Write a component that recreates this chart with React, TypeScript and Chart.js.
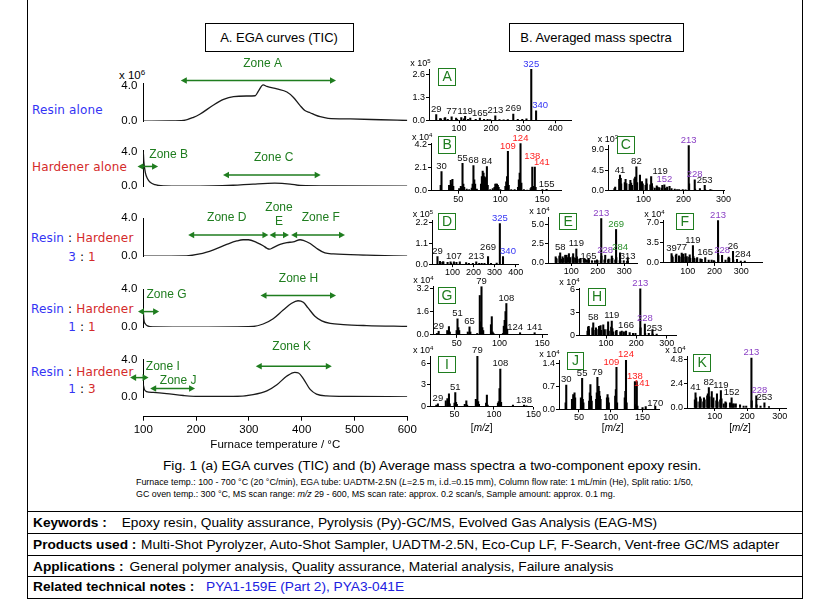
import React, { useEffect, useRef } from "react";
import { Chart, registerables } from "chart.js";

Chart.register(...registerables);

const FONT = "'Liberation Sans', Arial, sans-serif";
const ROWFONT = "'DejaVu Sans', Verdana, sans-serif";
const BLUE = "#3434f4";
const RED = "#d42a2a";
const GREEN = "#1f7d1f";
const PURPLE = "#8a3fc4";
const LBL_GREEN = "#2a8f2a";

// ================= EGA curves (x 10^6) =================
const EGA_X_TICKS = [100, 200, 300, 400, 500, 600];
const EGA_Y_TICKS = [0, 4];

const RESIN_T = [100, 150, 176, 195, 207, 233, 252, 271, 296, 312, 318, 327, 334, 353, 372, 384, 397, 406, 416, 425, 435, 450, 492, 550, 600];
const RESIN_V = [0, 0.02, 0.07, 0.42, 0.77, 1.81, 2.43, 2.75, 2.82, 2.85, 3.37, 4.07, 3.9, 3.62, 3.27, 2.68, 1.74, 1.18, 0.94, 0.7, 0.49, 0.31, 0.24, 0.15, 0.07];

const HARD_T = [100, 101, 104, 108, 113, 122, 138, 176, 230, 270, 308, 349, 378, 397, 460, 600];
const HARD_V = [4.0, 2.9, 1.54, 0.85, 0.44, 0.16, 0.03, 0.0, 0.02, 0.1, 0.24, 0.34, 0.24, 0.07, 0.01, 0.0];

const MIX31_T = [100, 182, 207, 233, 258, 277, 289, 299, 315, 327, 334, 339, 346, 359, 372, 384, 397, 403, 416, 428, 444, 460, 523, 600];
const MIX31_V = [0, 0.03, 0.23, 0.67, 1.23, 1.6, 1.73, 1.73, 1.43, 1.1, 0.83, 0.73, 0.9, 1.23, 1.43, 1.5, 1.73, 1.67, 1.33, 0.83, 0.33, 0.23, 0.1, 0.0];

const MIX11_T = [100, 101, 104, 108, 119, 207, 308, 327, 346, 365, 381, 393, 403, 412, 425, 438, 454, 479, 523, 600];
const MIX11_V = [1.8, 0.82, 0.33, 0.13, 0.03, 0, 0.07, 0.33, 0.89, 1.8, 2.52, 2.79, 2.62, 2.03, 1.15, 0.66, 0.39, 0.26, 0.16, 0.07];

const MIX13_T = [100, 102, 106, 119, 144, 176, 207, 270, 308, 334, 353, 372, 387, 394, 403, 416, 428, 447, 491, 600];
const MIX13_V = [1.33, 0.83, 0.6, 0.5, 0.37, 0.17, 0.07, 0.07, 0.27, 0.67, 1.33, 2.27, 2.67, 2.6, 2.0, 0.83, 0.33, 0.13, 0.07, 0.03];

type Zone = { name: string[]; from: number; to: number; level: number; labelAt: number; dy: number[] };

const ZONES_RESIN: Zone[] = [{ name: ["Zone A"], from: 171, to: 465, level: 4.56, labelAt: 326, dy: [-17] }];
const ZONES_HARD: Zone[] = [
  { name: ["Zone B"], from: 89, to: 128, level: 2.29, labelAt: 148, dy: [-12] },
  { name: ["Zone C"], from: 251, to: 436, level: 1.29, labelAt: 347, dy: [-17] },
];
const ZONES_31: Zone[] = [
  { name: ["Zone D"], from: 185, to: 337, level: 2.23, labelAt: 258, dy: [-17] },
  { name: ["Zone", "E"], from: 339, to: 376, level: 2.23, labelAt: 357, dy: [-27, -13.7] },
  { name: ["Zone F"], from: 380, to: 482, level: 2.23, labelAt: 436, dy: [-17] },
];
const ZONES_11: Zone[] = [
  { name: ["Zone G"], from: 90, to: 130, level: 1.64, labelAt: 144, dy: [-16.6] },
  { name: ["Zone H"], from: 322, to: 465, level: 3.34, labelAt: 394, dy: [-17] },
];
const ZONES_13: Zone[] = [
  { name: ["Zone I"], from: 75, to: 110, level: 2.1, labelAt: 137, dy: [-11.3] },
  { name: ["Zone J"], from: 113, to: 198, level: 0.93, labelAt: 166, dy: [-7.4] },
  { name: ["Zone K"], from: 313, to: 457, level: 3.33, labelAt: 381, dy: [-20] },
];

// ================= Mass spectra: [m/z, intensity] =================
type Pt = [number, number];
const SPEC_A: Pt[] = [[29,0.33],[41,0.1],[44,0.08],[55,0.12],[57,0.15],[65,0.06],[77,0.2],[91,0.12],[94,0.06],[107,0.15],[115,0.08],[119,0.22],[128,0.05],[135,0.12],[152,0.05],[165,0.12],[178,0.05],[189,0.05],[197,0.04],[213,0.25],[226,0.04],[239,0.03],[252,0.04],[269,0.35],[283,0.06],[297,0.05],[310,0.08],[325,2.88],[340,0.53]];
const SPEC_B: Pt[] = [[29,0.5],[30,1.75],[39,0.5],[41,0.95],[42,0.6],[43,1.05],[44,0.4],[51,0.2],[53,0.4],[54,0.3],[55,2.5],[56,0.6],[57,0.3],[60,0.15],[63,0.1],[66,0.25],[67,0.6],[68,2.3],[69,1.0],[70,0.6],[72,0.15],[77,0.6],[78,1.3],[79,1.8],[80,1.6],[81,1.3],[82,1.2],[83,0.8],[84,2.2],[85,0.5],[88,0.1],[91,0.2],[93,0.3],[94,0.6],[95,0.6],[96,0.6],[97,0.5],[98,0.3],[100,0.1],[106,0.4],[107,0.8],[108,1.3],[109,3.6],[110,0.5],[113,0.1],[117,0.1],[121,0.3],[122,1.0],[123,1.6],[124,4.3],[125,0.7],[128,0.1],[132,0.05],[136,0.2],[137,0.3],[138,2.15],[139,0.4],[140,0.2],[141,2.15],[142,0.3],[150,0.1],[155,0.12]];
const SPEC_C: Pt[] = [[27,0.5],[29,0.8],[39,2.5],[41,3.4],[43,2.7],[44,1.5],[53,1.8],[55,2.5],[57,1.6],[65,1.4],[67,2.3],[69,1.7],[71,1.2],[77,2.6],[79,3.0],[81,2.0],[82,5.2],[84,1.8],[91,3.4],[94,1.4],[96,2.0],[98,1.5],[105,1.2],[107,2.6],[108,1.5],[117,1.3],[119,3.1],[121,1.6],[122,0.9],[128,0.6],[133,1.1],[135,0.8],[139,0.7],[145,0.6],[147,1.2],[152,1.3],[155,0.6],[159,0.8],[165,1.0],[170,0.5],[178,0.4],[184,0.3],[189,0.3],[198,0.3],[205,0.25],[213,9.8],[214,1.5],[228,2.4],[229,0.4],[241,0.5],[253,1.2],[254,0.3],[267,0.3],[270,0.2]];
const SPEC_D: Pt[] = [[29,0.4],[41,0.15],[44,0.1],[55,0.12],[57,0.12],[77,0.1],[91,0.12],[94,0.06],[107,0.13],[119,0.1],[135,0.12],[165,0.08],[178,0.05],[197,0.04],[213,0.12],[227,0.05],[239,0.04],[252,0.05],[269,0.4],[283,0.05],[310,0.06],[325,2.15],[340,0.4]];
const SPEC_E: Pt[] = [[41,0.8],[43,0.6],[44,0.5],[55,0.9],[57,0.7],[58,1.3],[65,0.5],[67,0.8],[69,0.6],[77,1.0],[79,0.8],[82,1.0],[84,0.7],[91,1.2],[94,0.6],[96,0.7],[105,0.8],[107,1.2],[109,0.7],[115,0.6],[119,1.8],[121,0.8],[124,0.5],[133,0.5],[135,0.6],[147,0.6],[152,0.5],[159,0.4],[165,0.6],[167,0.4],[178,0.3],[189,0.3],[197,0.4],[199,0.3],[211,0.3],[213,5.7],[214,0.9],[225,0.4],[228,1.0],[239,0.4],[241,0.5],[252,0.5],[253,0.9],[255,0.6],[266,0.4],[269,4.3],[270,0.7],[283,0.3],[284,1.3],[285,0.3],[298,0.3],[310,0.2],[313,0.7],[314,0.2]];
const SPEC_F: Pt[] = [[39,1.6],[41,1.2],[43,1.0],[55,1.3],[57,1.5],[67,1.2],[69,1.0],[77,1.7],[79,1.4],[82,1.5],[84,1.0],[91,1.6],[94,0.8],[96,1.1],[105,1.0],[107,1.4],[109,0.8],[119,3.0],[121,1.1],[124,0.8],[133,0.7],[135,0.9],[147,0.7],[152,0.6],[165,0.9],[178,0.5],[189,0.5],[197,0.4],[199,0.3],[213,7.3],[214,1.3],[228,1.3],[241,0.5],[252,0.8],[253,1.0],[255,0.8],[269,2.0],[270,0.5],[284,0.6],[298,0.3],[313,0.3]];
const SPEC_G: Pt[] = [[27,0.1],[29,0.25],[39,0.3],[41,0.57],[42,0.2],[50,0.3],[51,1.1],[52,0.5],[53,0.3],[63,0.2],[65,0.55],[66,0.2],[74,0.1],[77,2.7],[78,0.9],[79,3.3],[80,0.5],[81,0.3],[90,0.7],[91,1.25],[92,0.2],[93,0.1],[104,0.1],[105,0.6],[106,1.0],[107,1.6],[108,2.15],[109,0.4],[124,0.15],[141,0.15]];
const SPEC_H: Pt[] = [[39,0.6],[41,1.1],[43,1.2],[44,0.8],[55,1.0],[57,0.9],[58,1.65],[65,0.7],[67,1.0],[69,0.8],[77,1.2],[79,1.0],[82,1.3],[84,0.7],[91,1.4],[94,0.6],[96,0.8],[105,0.8],[107,1.8],[109,0.6],[117,1.1],[119,1.9],[121,0.9],[124,0.5],[133,0.6],[135,0.7],[147,0.5],[152,0.6],[159,0.5],[166,0.6],[178,0.4],[189,0.3],[197,0.3],[213,6.1],[214,1.0],[228,1.5],[229,0.3],[241,0.3],[253,0.8],[254,0.2],[267,0.2]];
const SPEC_I: Pt[] = [[27,0.2],[29,0.4],[39,0.8],[41,1.1],[42,0.5],[43,1.75],[44,0.4],[50,0.5],[51,1.95],[52,0.6],[53,0.3],[63,0.3],[65,0.8],[66,0.2],[77,1.0],[78,0.9],[79,7.0],[80,0.7],[81,0.3],[90,0.5],[91,1.6],[92,0.2],[105,0.5],[106,0.7],[107,2.5],[108,5.2],[109,0.6],[124,0.2],[138,0.2],[141,0.1]];
const SPEC_J: Pt[] = [[29,0.2],[30,0.74],[39,0.3],[41,0.45],[42,0.4],[43,0.5],[44,0.35],[53,0.35],[55,0.94],[56,0.3],[57,0.2],[66,0.25],[67,0.5],[68,0.75],[69,0.4],[70,0.25],[77,0.3],[78,0.5],[79,0.97],[80,0.6],[81,0.7],[82,0.55],[83,0.4],[84,0.3],[94,0.35],[95,0.45],[96,0.35],[97,0.2],[107,0.4],[108,0.6],[109,1.28],[110,0.2],[122,0.35],[123,0.55],[124,1.5],[125,0.2],[138,0.84],[139,0.15],[141,0.84],[142,0.1],[150,0.05],[155,0.08],[170,0.1]];
const SPEC_K: Pt[] = [[39,0.8],[41,1.5],[43,1.0],[44,0.6],[53,0.6],[55,1.1],[57,0.9],[65,0.6],[67,1.0],[69,0.8],[77,1.2],[79,1.4],[81,1.0],[82,2.0],[84,1.1],[91,1.6],[94,0.8],[96,1.0],[105,0.7],[107,1.4],[109,0.6],[117,0.8],[119,1.7],[121,0.9],[128,0.4],[133,0.6],[135,0.5],[147,0.5],[152,1.0],[155,0.4],[159,0.4],[165,0.4],[178,0.3],[189,0.2],[197,0.2],[213,4.9],[214,0.7],[228,1.2],[229,0.3],[241,0.2],[253,0.5],[267,0.15]];

// peak labels: [m/z, text, colour key]
type Lab = [number, string, string];
const LAB_A: Lab[] = [[29,"29","k"],[77,"77","k"],[119,"119","k"],[165,"165","k"],[213,"213","k"],[269,"269","k"],[325,"325","b"],[340,"340","b"]];
const LAB_B: Lab[] = [[30,"30","k"],[55,"55","k"],[68,"68","k"],[84,"84","k"],[109,"109","r"],[124,"124","r"],[138,"138","r"],[141,"141","r"],[155,"155","k"]];
const LAB_C: Lab[] = [[41,"41","k"],[82,"82","k"],[119,"119","k"],[152,"152","p"],[213,"213","p"],[228,"228","p"],[253,"253","k"]];
const LAB_D: Lab[] = [[29,"29","k"],[107,"107","k"],[213,"213","k"],[269,"269","k"],[325,"325","b"],[340,"340","b"]];
const LAB_E: Lab[] = [[58,"58","k"],[119,"119","k"],[165,"165","k"],[213,"213","p"],[228,"228","p"],[269,"269","g"],[284,"284","g"],[313,"313","k"]];
const LAB_F: Lab[] = [[39,"39","k"],[77,"77","k"],[119,"119","k"],[165,"165","k"],[213,"213","p"],[228,"228","p"],[269,"26","k"],[284,"284","k"]];
const LAB_G: Lab[] = [[29,"29","k"],[51,"51","k"],[65,"65","k"],[79,"79","k"],[108,"108","k"],[124,"124","k"],[141,"141","k"]];
const LAB_H: Lab[] = [[58,"58","k"],[119,"119","k"],[166,"166","k"],[213,"213","p"],[228,"228","p"],[253,"253","k"]];
const LAB_I: Lab[] = [[29,"29","k"],[51,"51","k"],[79,"79","k"],[108,"108","k"],[138,"138","k"]];
const LAB_J: Lab[] = [[30,"30","k"],[55,"55","k"],[79,"79","k"],[109,"109","r"],[124,"124","r"],[138,"138","r"],[141,"141","r"],[170,"170","k"]];
const LAB_K: Lab[] = [[41,"41","k"],[82,"82","k"],[119,"119","k"],[152,"152","k"],[213,"213","p"],[228,"228","p"],[253,"253","k"]];

// tick labels
const XT_A = [100, 200, 300, 400];
const XT_B = [50, 100, 150];
const XT_C = [100, 200, 300];
const XT_D = [100, 200, 300, 400];
const XT_E = [100, 200, 300];
const XT_F = [100, 200, 300];
const XT_G = [50, 100, 150];
const XT_H = [100, 200, 300];
const XT_I = [50, 100, 150];
const XT_J = [50, 100, 150];
const XT_K = [100, 200, 300];
const YT_A = [0, 1.3, 2.6];
const YT_B = [0, 2.1, 4.2];
const YT_C = [0, 4.5, 9.0];
const YT_D = [0, 1.1, 2.2];
const YT_E = [0, 2.5, 5.0];
const YT_F = [0, 3.5, 7.0];
const YT_G = [0, 1.6, 3.2];
const YT_H = [0, 3, 6];
const YT_I = [0, 3, 6];
const YT_J = [0, 0.7, 1.4];
const YT_K = [0, 2.4, 4.8];

// label nudges (px) to avoid overlaps: key "ID:mz"
const LABEL_NUDGE: Record<string, [number, number]> = {
  "A:340": [4, 0], "B:138": [0, -6], "B:141": [7, 0], "C:119": [9, 0], "D:340": [5, 0], "D:269": [0, -4],
  "E:313": [0, 4], "E:165": [0, 3], "F:284": [6, 0], "G:124": [-5, 0], "H:253": [2, 4], "J:109": [-5, 0],
  "J:141": [5, 7], "J:170": [0, 3], "K:228": [3, 0],
};

const LABEL_COLORS: Record<string, string> = { k: "#111", b: BLUE, r: "#ff2020", p: PURPLE, g: LBL_GREEN };

// ================= layout =================
const EGA_LEFT = 90;
const EGA_W = 330;
const EGA_YW = 53.3;
const EGA_PLOT_W = 264;

const EGA_PANELS = [
  { t: RESIN_T, v: RESIN_V, zones: ZONES_RESIN, canvasTop: 55, chartTop: 83, base: 124, max: 4.28 },
  { t: HARD_T, v: HARD_V, zones: ZONES_HARD, canvasTop: 138, chartTop: 148.3, base: 188.3, max: 4.1 },
  { t: MIX31_T, v: MIX31_V, zones: ZONES_31, canvasTop: 200, chartTop: 218, base: 258.3, max: 4.03 },
  { t: MIX11_T, v: MIX11_V, zones: ZONES_11, canvasTop: 270, chartTop: 289.3, base: 330, max: 4.0 },
  { t: MIX13_T, v: MIX13_V, zones: ZONES_13, canvasTop: 338, chartTop: 359.8, base: 400, max: 4.02 },
];

const SPECTRA = [
  { id: "A", pts: SPEC_A, labels: LAB_A, xMin: 6.5, xMax: 450, xt: XT_A, yMax: 2.9, yt: YT_A, dec: 1, exp: "5", L: 429.3, R: 571.7, T: 69.4, B: 120.7, box: [438.3, 68.3], expDx: -19 },
  { id: "B", pts: SPEC_B, labels: LAB_B, xMin: 17.5, xMax: 173, xt: XT_B, yMax: 4.36, yt: YT_B, dec: 1, exp: "4", L: 431, R: 561.7, T: 143.3, B: 191, box: [438.3, 136], expDx: -19 },
  { id: "C", pts: SPEC_C, labels: LAB_C, xMin: 11, xMax: 302, xt: XT_C, yMax: 9.9, yt: YT_C, dec: 1, exp: "3", L: 607.7, R: 724, T: 145.1, B: 191, box: [617, 136], expDx: -10 },
  { id: "D", pts: SPEC_D, labels: LAB_D, xMin: 3, xMax: 414, xt: XT_D, yMax: 2.34, yt: YT_D, dec: 1, exp: "5", L: 431.7, R: 518.3, T: 220.1, B: 264.3, box: [438.3, 212.7], expDx: -19 },
  { id: "E", pts: SPEC_E, labels: LAB_E, xMin: 12, xMax: 348, xt: XT_E, yMax: 5.9, yt: YT_E, dec: 1, exp: "4", L: 548.3, R: 637.3, T: 217.3, B: 263.3, box: [559.3, 212.7], expDx: -19 },
  { id: "F", pts: SPEC_F, labels: LAB_F, xMin: 7, xMax: 379, xt: XT_F, yMax: 7.4, yt: YT_F, dec: 1, exp: "4", L: 663.3, R: 762.7, T: 220.4, B: 263.3, box: [676, 212.7], expDx: -19 },
  { id: "G", pts: SPEC_G, labels: LAB_G, xMin: 22.4, xMax: 156.6, xt: XT_G, yMax: 3.35, yt: YT_G, dec: 1, exp: "4", L: 433.3, R: 548.3, T: 286.1, B: 335, box: [438.3, 286.7], expDx: -20 },
  { id: "H", pts: SPEC_H, labels: LAB_H, xMin: 11, xMax: 332, xt: XT_H, yMax: 6.2, yt: YT_H, dec: 0, exp: "4", L: 579.3, R: 676.7, T: 288.4, B: 336, box: [588.3, 288.3], expDx: -20 },
  { id: "I", pts: SPEC_I, labels: LAB_I, xMin: 19, xMax: 148.5, xt: XT_I, yMax: 7.0, yt: YT_I, dec: 0, exp: "4", L: 430, R: 532.3, T: 356.1, B: 406.7, box: [438.3, 355.7], expDx: -17 },
  { id: "J", pts: SPEC_J, labels: LAB_J, xMin: 18.6, xMax: 177, xt: XT_J, yMax: 1.5, yt: YT_J, dec: 1, exp: "4", L: 559.3, R: 660, T: 360, B: 409.3, box: [566.7, 352.3], expDx: -20 },
  { id: "K", pts: SPEC_K, labels: LAB_K, xMin: 14.8, xMax: 320.6, xt: XT_K, yMax: 5.1, yt: YT_K, dec: 1, exp: "4", L: 687.3, R: 786.7, T: 356.3, B: 408.3, box: [693.3, 354.3], expDx: -22 },
];

const MZ_LABEL_X = [481.7, 612.7, 740];

// ================= helpers =================
function ChartCanvas(props: { left: number; top: number; width: number; height: number; make: () => any }) {
  const ref = useRef<HTMLCanvasElement | null>(null);
  useEffect(() => {
    if (!ref.current) return;
    const chart = new Chart(ref.current, props.make());
    return () => chart.destroy();
  }, []);
  return (
    <canvas
      ref={ref}
      width={props.width}
      height={props.height}
      style={{ position: "absolute", left: props.left, top: props.top, width: props.width, height: props.height }}
    />
  );
}

function zonePlugin(zones: Zone[]) {
  return {
    id: "zones",
    afterDraw(chart: any) {
      const { ctx } = chart;
      const x = chart.scales.x;
      const y = chart.scales.y;
      ctx.save();
      ctx.strokeStyle = GREEN;
      ctx.fillStyle = GREEN;
      ctx.lineWidth = 1.5;
      zones.forEach((z) => {
        const x1 = x.getPixelForValue(z.from);
        const x2 = x.getPixelForValue(z.to);
        const yy = y.getPixelForValue(z.level);
        const head = 6;
        const hw = 3.3;
        ctx.beginPath();
        ctx.moveTo(x1 + head - 1, yy);
        ctx.lineTo(x2 - head + 1, yy);
        ctx.stroke();
        ctx.beginPath();
        ctx.moveTo(x1, yy);
        ctx.lineTo(x1 + head, yy - hw);
        ctx.lineTo(x1 + head, yy + hw);
        ctx.closePath();
        ctx.fill();
        ctx.beginPath();
        ctx.moveTo(x2, yy);
        ctx.lineTo(x2 - head, yy - hw);
        ctx.lineTo(x2 - head, yy + hw);
        ctx.closePath();
        ctx.fill();
        ctx.font = `12px ${FONT}`;
        ctx.textAlign = "center";
        ctx.textBaseline = "middle";
        const lx = x.getPixelForValue(z.labelAt);
        z.name.forEach((t, i) => ctx.fillText(t, lx, yy + z.dy[i]));
      });
      ctx.restore();
    },
  };
}

function egaConfig(p: (typeof EGA_PANELS)[number], height: number) {
  return {
    type: "line",
    data: {
      datasets: [
        {
          data: p.t.map((t, i) => ({ x: t, y: p.v[i] })),
          borderColor: "#1a1a1a",
          borderWidth: 1.3,
          pointRadius: 0,
          cubicInterpolationMode: "monotone",
          fill: false,
        },
      ],
    },
    options: {
      animation: false,
      responsive: false,
      events: [],
      plugins: { legend: { display: false }, tooltip: { enabled: false } },
      layout: {
        padding: { left: 0, right: EGA_W - EGA_YW - EGA_PLOT_W, top: p.chartTop - p.canvasTop, bottom: height - (p.base - p.canvasTop) },
      },
      scales: {
        x: { type: "linear", display: false, min: EGA_X_TICKS[0], max: EGA_X_TICKS[EGA_X_TICKS.length - 1] },
        y: {
          type: "linear",
          min: 0,
          max: p.max,
          afterFit: (s: any) => { s.width = EGA_YW; },
          afterBuildTicks: (s: any) => { s.ticks = EGA_Y_TICKS.map((v) => ({ value: v })); },
          grid: { display: false, drawTicks: false },
          border: { display: true, color: "#000", width: 1 },
          ticks: { color: "#000", font: { family: FONT, size: 11.5 }, padding: 6, callback: (v: any) => Number(v).toFixed(1) },
        },
      },
    },
    plugins: [zonePlugin(p.zones)],
  };
}

function axisConfig() {
  return {
    type: "line",
    data: { datasets: [] },
    options: {
      animation: false,
      responsive: false,
      events: [],
      plugins: { legend: { display: false }, tooltip: { enabled: false } },
      layout: { padding: { left: EGA_YW, right: EGA_W - EGA_YW - EGA_PLOT_W, top: 0, bottom: 0 } },
      scales: {
        x: {
          type: "linear",
          min: EGA_X_TICKS[0],
          max: EGA_X_TICKS[EGA_X_TICKS.length - 1],
          afterBuildTicks: (s: any) => { s.ticks = EGA_X_TICKS.map((v) => ({ value: v })); },
          afterFit: (s: any) => { s.height = 39.3; },
          grid: { display: true, drawOnChartArea: false, drawTicks: true, tickLength: 4, color: "#000" },
          border: { display: true, color: "#000", width: 1 },
          ticks: { color: "#000", font: { family: FONT, size: 11.5 }, padding: 2, maxRotation: 0, autoSkip: false },
          title: { display: true, text: "Furnace temperature / \u00B0C", color: "#000", font: { family: FONT, size: 11.5 }, padding: { top: 0, bottom: 4 } },
        },
        y: { display: false, min: 0, max: 1 },
      },
    },
  };
}

const SP_YW = 28;
const SP_PAD_TOP = 22;
const SP_PAD_RIGHT = 10;
const SP_XH = 14;

function peakLabelPlugin(id: string, pts: Pt[], labels: Lab[]) {
  return {
    id: "peakLabels",
    afterDatasetsDraw(chart: any) {
      const { ctx } = chart;
      const x = chart.scales.x;
      const y = chart.scales.y;
      ctx.save();
      ctx.font = `9.5px ${FONT}`;
      ctx.textAlign = "center";
      ctx.textBaseline = "bottom";
      labels.forEach(([mz, text, col]) => {
        const p = pts.find((q) => q[0] === mz);
        const inten = p ? p[1] : 0;
        const n = LABEL_NUDGE[`${id}:${mz}`] || [0, 0];
        ctx.fillStyle = LABEL_COLORS[col];
        ctx.fillText(text, x.getPixelForValue(mz) + n[0], y.getPixelForValue(inten) - 0.5 + n[1]);
      });
      ctx.restore();
    },
  };
}

function specConfig(s: (typeof SPECTRA)[number], height: number, width: number) {
  const plotW = s.R - s.L;
  const plotH = s.B - s.T;
  return {
    type: "bar",
    data: {
      datasets: [
        {
          data: s.pts.map(([mz, v]) => ({ x: mz, y: v })),
          backgroundColor: "#000",
          borderWidth: 0,
          barThickness: 1.4,
        },
      ],
    },
    options: {
      animation: false,
      responsive: false,
      events: [],
      plugins: { legend: { display: false }, tooltip: { enabled: false } },
      layout: { padding: { left: 0, top: SP_PAD_TOP, right: width - SP_YW - plotW, bottom: 0 } },
      scales: {
        x: {
          type: "linear",
          min: s.xMin,
          max: s.xMax,
          offset: false,
          afterBuildTicks: (sc: any) => { sc.ticks = s.xt.map((v) => ({ value: v })); },
          afterFit: (sc: any) => { sc.height = height - SP_PAD_TOP - plotH; },
          grid: { display: true, offset: false, drawOnChartArea: false, drawTicks: true, tickLength: 3, color: "#000" },
          border: { display: true, color: "#000", width: 1 },
          ticks: { color: "#000", font: { family: FONT, size: 9 }, padding: 0, maxRotation: 0, autoSkip: false },
        },
        y: {
          type: "linear",
          min: 0,
          max: s.yMax,
          afterBuildTicks: (sc: any) => { sc.ticks = s.yt.map((v) => ({ value: v })); },
          afterFit: (sc: any) => { sc.width = SP_YW; },
          grid: { display: true, drawOnChartArea: false, drawTicks: true, tickLength: 3, color: "#000" },
          border: { display: true, color: "#000", width: 1 },
          ticks: { color: "#000", font: { family: FONT, size: 9 }, padding: 1, callback: (v: any) => Number(v).toFixed(s.dec) },
        },
      },
    },
    plugins: [peakLabelPlugin(s.id, s.pts, s.labels)],
  };
}

// ================= text rows =================
const ROW_LABELS: { parts: [string, string][]; x: number; y: number; center?: boolean }[] = [
  { parts: [["Resin alone", BLUE]], x: 32, y: 110 },
  { parts: [["Hardener alone", RED]], x: 32, y: 166.7 },
  { parts: [["Resin", BLUE], [" : ", "#000"], ["Hardener", RED]], x: 31, y: 237.7 },
  { parts: [["3", BLUE], [" : ", "#000"], ["1", RED]], x: 82, y: 256.7, center: true },
  { parts: [["Resin", BLUE], [" : ", "#000"], ["Hardener", RED]], x: 31, y: 309.3 },
  { parts: [["1", BLUE], [" : ", "#000"], ["1", RED]], x: 82, y: 327.3, center: true },
  { parts: [["Resin", BLUE], [" : ", "#000"], ["Hardener", RED]], x: 31, y: 371.7 },
  { parts: [["1", BLUE], [" : ", "#000"], ["3", RED]], x: 82, y: 389.3, center: true },
];

const TABLE_ROWS: { label: string; value: string; vx: number; y: number; color: string }[] = [
  { label: "Keywords :", value: "Epoxy resin, Quality assurance, Pyrolysis (Py)-GC/MS, Evolved Gas Analysis (EAG-MS)", vx: 121.7, y: 522.7, color: "#000" },
  { label: "Products used :", value: "Multi-Shot Pyrolyzer, Auto-Shot Sampler, UADTM-2.5N, Eco-Cup LF, F-Search, Vent-free GC/MS adapter", vx: 141, y: 544.3, color: "#000" },
  { label: "Applications :", value: "General polymer analysis, Quality assurance, Material analysis, Failure analysis", vx: 129.6, y: 566, color: "#000" },
  { label: "Related technical notes :", value: "PYA1-159E (Part 2), PYA3-041E", vx: 206, y: 586.7, color: "#2020e0" },
];
const TABLE_LINES = [511, 533.3, 554.5, 576, 597.7];

export default function App() {
  return (
    <div style={{ position: "absolute", left: 0, top: 0, width: 815, height: 605, background: "#fff", overflow: "hidden", fontFamily: FONT, color: "#000" }}>
      {/* frame */}
      <div style={{ position: "absolute", left: 26.5, top: 0, width: 1, height: 598, background: "#000" }} />
      <div style={{ position: "absolute", left: 802, top: 0, width: 1, height: 598, background: "#000" }} />
      {TABLE_LINES.map((y, i) => (
        <div key={i} style={{ position: "absolute", left: 26.5, top: y, width: 776.5, height: 1, background: "#000" }} />
      ))}

      {/* titles */}
      <div style={{ position: "absolute", left: 204.5, top: 22.7, width: 147, height: 27, border: "1px solid #000", fontSize: 13, lineHeight: "27px", textAlign: "center" }}>A. EGA curves (TIC)</div>
      <div style={{ position: "absolute", left: 508.5, top: 22.7, width: 173, height: 27, border: "1px solid #000", fontSize: 13, lineHeight: "27px", textAlign: "center" }}>B. Averaged mass spectra</div>

      {/* row labels */}
      {ROW_LABELS.map((r, i) => (
        <div key={i} style={{ position: "absolute", left: r.center ? r.x - 40 : r.x, width: r.center ? 80 : undefined, top: r.y - 8, lineHeight: "16px", fontSize: 12, fontFamily: ROWFONT, whiteSpace: "nowrap", textAlign: r.center ? "center" : "left", letterSpacing: 0.15 }}>
          {r.parts.map(([t, c], j) => (
            <span key={j} style={{ color: c }}>{t}</span>
          ))}
        </div>
      ))}

      {/* EGA "x 10^6" */}
      <div style={{ position: "absolute", left: 119, top: 68, fontSize: 11.5, lineHeight: "14px", whiteSpace: "nowrap" }}>
        x 10<span style={{ fontSize: 8, position: "relative", top: -4 }}>6</span>
      </div>

      {/* EGA panels */}
      {EGA_PANELS.map((p, i) => {
        const h = Math.ceil(p.base - p.canvasTop + 10);
        return <ChartCanvas key={"ega" + i} left={EGA_LEFT} top={p.canvasTop} width={EGA_W} height={h} make={() => egaConfig(p, h)} />;
      })}
      <ChartCanvas left={EGA_LEFT} top={400} width={EGA_W} height={56} make={() => axisConfig()} />

      {/* spectra */}
      {SPECTRA.map((s) => {
        const left = s.L - SP_YW;
        const top = s.T - SP_PAD_TOP;
        const width = Math.ceil(s.R - s.L + SP_YW + SP_PAD_RIGHT);
        const height = Math.ceil(s.B - s.T + SP_PAD_TOP + SP_XH);
        return (
          <React.Fragment key={s.id}>
            <ChartCanvas left={left} top={top} width={width} height={height} make={() => specConfig(s, height, width)} />
            <div style={{ position: "absolute", left: s.L + s.expDx, top: s.T - 6 - 6, fontSize: 9, lineHeight: "12px", whiteSpace: "nowrap" }}>
              x 10<span style={{ fontSize: 6, position: "relative", top: -3 }}>{s.exp}</span>
            </div>
            <div style={{ position: "absolute", left: s.box[0], top: s.box[1], width: 15.5, height: 15.5, border: `1px solid ${GREEN}`, color: GREEN, fontSize: 14, lineHeight: "15.5px", textAlign: "center" }}>{s.id}</div>
          </React.Fragment>
        );
      })}
      {MZ_LABEL_X.map((x, i) => (
        <div key={"mz" + i} style={{ position: "absolute", left: x - 20, width: 40, top: 421, fontSize: 10, lineHeight: "14px", textAlign: "center" }}>
          [<i>m/z</i>]
        </div>
      ))}

      {/* caption */}
      <div style={{ position: "absolute", left: 163, top: 458, fontSize: 13.7, lineHeight: "16px", whiteSpace: "nowrap" }}>
        Fig. 1 (a) EGA curves (TIC) and (b) Average mass spectra a two-component epoxy resin.
      </div>
      <div style={{ position: "absolute", left: 136, top: 476, fontSize: 8.9, lineHeight: "12px", whiteSpace: "nowrap" }}>
        Furnace temp.: 100 - 700 °C (20 °C/min), EGA tube: UADTM-2.5N (<i>L</i>=2.5 m, i.d.=0.15 mm), Column flow rate: 1 mL/min (He), Split ratio: 1/50,
      </div>
      <div style={{ position: "absolute", left: 136, top: 488, fontSize: 8.9, lineHeight: "12px", whiteSpace: "nowrap" }}>
        GC oven temp.: 300 °C, MS scan range: <i>m/z</i> 29 - 600, MS scan rate: approx. 0.2 scan/s, Sample amount: approx. 0.1 mg.
      </div>

      {/* table */}
      {TABLE_ROWS.map((r, i) => (
        <React.Fragment key={"row" + i}>
          <div style={{ position: "absolute", left: 33, top: r.y - 8.5, fontSize: 13.7, lineHeight: "17px", fontWeight: "bold", whiteSpace: "nowrap" }}>{r.label}</div>
          <div style={{ position: "absolute", left: r.vx, top: r.y - 8.5, fontSize: 13.7, lineHeight: "17px", whiteSpace: "nowrap", color: r.color }}>{r.value}</div>
        </React.Fragment>
      ))}
    </div>
  );
}
